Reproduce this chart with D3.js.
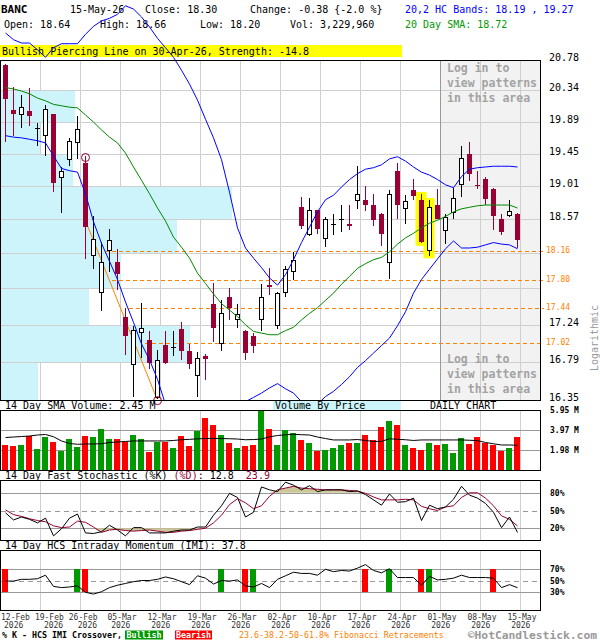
<!DOCTYPE html>
<html>
<head>
<meta charset="utf-8">
<title>BANC daily chart</title>
<script src="https://cdn.jsdelivr.net/npm/d3@7/dist/d3.min.js"></script>
<style>
html,body{margin:0;padding:0;background:#fff;}
svg{display:block;}
text{white-space:pre;}
</style>
</head>
<body>
<svg id="chart" width="600" height="640"></svg>
<script>
// ---------------- DATA ----------------
const dates = ["2026-02-12","2026-02-13","2026-02-17","2026-02-18","2026-02-19","2026-02-20","2026-02-23","2026-02-24","2026-02-25","2026-02-26","2026-02-27",
"2026-03-02","2026-03-03","2026-03-04","2026-03-05","2026-03-06","2026-03-09","2026-03-10","2026-03-11","2026-03-12","2026-03-13","2026-03-16","2026-03-17","2026-03-18","2026-03-19","2026-03-20","2026-03-23","2026-03-24","2026-03-25","2026-03-26","2026-03-27","2026-03-30","2026-03-31",
"2026-04-01","2026-04-02","2026-04-06","2026-04-07","2026-04-08","2026-04-09","2026-04-10","2026-04-13","2026-04-14","2026-04-15","2026-04-16","2026-04-17","2026-04-20","2026-04-21","2026-04-22","2026-04-23","2026-04-24","2026-04-27","2026-04-28","2026-04-29","2026-04-30",
"2026-05-01","2026-05-04","2026-05-05","2026-05-06","2026-05-07","2026-05-08","2026-05-11","2026-05-12","2026-05-13","2026-05-14","2026-05-15"];

const open  = [20.70,20.06,20.00,20.05,19.81,19.70,20.00,19.13,19.37,19.61, 19.33,18.11,17.64,18.17,18.02,17.34,16.76,17.15,17.06,16.38,
               17.00,16.97,17.19,16.92,16.63,16.87,17.50,17.01,17.58,17.30, 17.17,17.10,17.30,17.73,17.23,17.64,17.90,18.73,18.38,18.69,
               18.32,18.51,18.57,18.51,18.82,18.82,18.76,18.64,18.01,19.21, 18.71,18.96,18.82,18.17,18.76,18.43,18.66,19.04,19.45,19.03,
               19.11,18.97,18.58,18.62,18.64];
const high  = [20.72,20.39,20.27,20.38,19.88,20.13,20.01,19.27,19.67,19.97, 19.42,18.61,18.28,18.44,18.19,17.45,17.22,17.51,17.16,16.94,
               17.16,17.16,17.27,17.01,16.91,16.89,17.75,17.55,17.69,17.49, 17.18,17.14,17.74,17.94,17.64,17.97,18.15,18.86,18.85,18.70,
               18.60,18.64,18.76,18.76,19.29,19.01,18.90,18.66,18.96,19.32, 18.89,19.11,18.90,18.82,18.97,18.64,18.98,19.56,19.61,19.22,
               19.13,18.98,18.64,18.82,18.66];
const low   = [19.61,19.70,19.81,19.83,19.56,19.42,18.93,18.65,19.28,19.38, 18.06,17.93,17.41,17.90,17.67,16.88,16.38,16.84,16.71,16.36,
               16.77,16.86,16.82,16.71,16.39,16.58,17.03,16.92,17.30,17.20, 16.82,16.90,17.17,17.61,17.19,17.58,17.79,18.45,18.35,18.38,
               18.21,18.37,18.40,18.43,18.71,18.68,18.48,18.23,17.81,18.58, 18.51,18.82,18.26,18.10,18.57,18.25,18.57,18.86,19.08,18.97,
               18.76,18.43,18.37,18.60,18.20];
const close = [20.21,20.00,20.10,19.98,19.81,20.07,19.06,19.21,19.62,19.79, 18.47,18.31,18.02,18.29,17.87,17.11,17.17,17.19,16.78,16.81,
               16.78,16.97,16.93,16.77,16.84,16.83,17.20,17.38,17.45,17.36, 16.90,16.98,17.58,17.71,17.63,17.93,18.04,18.49,18.69,18.44,
               18.57,18.51,18.57,18.48,18.90,18.76,18.56,18.38,18.90,18.76, 18.80,18.88,18.28,18.73,18.57,18.60,18.84,19.39,19.18,19.01,
               18.84,18.62,18.41,18.68,18.30];

const bandUpper = [21.18,21.08,21.03,21.03,20.93,20.82,20.96,21.02,21.02,21.02, 21.16,21.28,21.36,21.40,21.46,21.59,21.54,21.42,21.27,21.10,
                   20.96,20.82,20.63,20.43,20.20,19.93,19.67,19.37,18.93,18.46, 18.20,18.07,17.95,17.82,17.73,17.86,18.05,18.27,18.47,18.67,
                   18.83,18.89,19.00,19.10,19.18,19.24,19.26,19.30,19.38,19.41, 19.35,19.27,19.20,19.16,19.10,19.03,18.99,19.14,19.24,19.26,
                   19.27,19.28,19.28,19.28,19.27];
const bandLower = [19.70,19.68,19.67,19.65,19.63,19.60,19.42,19.25,19.22,19.20, 18.91,18.54,18.26,18.03,17.80,17.52,17.27,17.01,16.82,16.59,
                   16.30,16.18,16.07,15.99,15.94,15.93,15.96,16.03,16.12,16.24, 16.33,16.38,16.43,16.49,16.54,16.48,16.43,16.33,16.26,16.30,
                   16.39,16.45,16.53,16.62,16.73,16.81,16.90,16.99,17.08,17.23, 17.40,17.63,17.80,17.93,18.06,18.19,18.29,18.20,18.20,18.21,
                   18.24,18.27,18.25,18.24,18.19];
const sma20 = [20.38,20.36,20.33,20.29,20.23,20.19,20.14,20.12,20.10,20.09, 19.99,19.89,19.78,19.68,19.60,19.46,19.27,19.09,18.91,18.72,
               18.55,18.34,18.21,18.07,17.88,17.75,17.62,17.50,17.42,17.34, 17.24,17.16,17.14,17.12,17.12,17.17,17.21,17.30,17.38,17.45,
               17.54,17.63,17.74,17.84,17.94,18.00,18.05,18.08,18.15,18.25, 18.33,18.39,18.46,18.52,18.56,18.61,18.67,18.71,18.73,18.75,
               18.76,18.76,18.76,18.76,18.72];

const volume = [2.48,2.38,2.48,3.40,2.08,3.27,2.78,1.92,3.07,2.28, 3.37,3.27,4.07,3.07,3.07,2.81,3.47,3.07,1.79,2.81,
                2.81,2.18,3.37,2.38,3.87,5.16,4.46,3.47,2.68,2.18, 2.38,2.48,5.88,4.07,2.48,3.97,3.67,2.98,2.68,1.88,
                1.98,2.18,2.48,2.68,2.68,3.47,2.98,4.26,4.86,4.46, 2.48,2.18,1.98,2.68,2.48,2.58,1.69,3.17,2.58,3.27,
                2.68,2.48,1.88,2.18,3.23];
const volSma = [3.22,3.27,3.32,3.37,3.47,3.52,3.30,2.88,2.63,2.55, 2.58,2.58,2.61,2.73,2.78,2.83,2.88,2.88,2.88,2.88,
                2.88,2.93,3.00,3.04,3.09,3.12,3.14,3.12,3.10,3.07, 3.00,3.02,3.07,3.29,3.42,3.49,3.54,3.50,3.47,3.27,
                3.12,2.98,2.98,2.98,3.02,2.93,2.83,2.84,3.10,3.04, 3.00,2.93,2.98,2.98,2.98,2.98,2.98,2.98,2.95,2.91,
                2.73,2.60,2.48,2.48,2.45];

const stochK = [46,34,39,35,29,37,7,19,37,44, 12,11,14,25,17,7,21,21,12,12, 12,15,17,17,22,22,42,58,79,72,
                39,47,90,85,82,98,93,85,92,82, 85,85,85,82,83,77,68,59,78,64, 65,71,33,59,53,56,69,91,76,71,
                62,47,21,39,12.8];
const stochD = [51,43,40,36,33,31,24,21,22,32, 30,22,13,17,18,16,15,16,17,15, 13,13,15,16,18,20,29,42,60,70,
                63,53,58,74,85,88,91,88,87,86, 85,85,85,84,83,79,73,68,68,68, 69,68,57,53,50,56,58,72,80,80,
                71,58,41,35,23.9];
const imi = [49,49,52,52,53,59,40,38,39,41, 30,27,31,38,42,45,48,50,50,52, 56,53,48,43,58,54,44,50,49,51,
             41,39,45,38,52,58,64,62,62,59, 69,65,67,66,71,77,67,63,70,55, 55,55,42,57,51,52,54,59,55,55,
             55,54,38,43,37.8];
const bullishIdx = [9,27,31,48,53];
const bearishIdx = [0,10,30,45,52,61];

const priceGrid   = [20.78,20.34,19.89,19.45,19.01,18.57,18.13,17.69,17.24,16.79,16.35];
const priceLabels = ["20.78","20.34","19.89","19.45","19.01","18.57","17.24","16.79","16.35"];
const vbpVolume   = [0,3.2,1.7,3.1,10.0,7.6,5.2,3.8,8.2,1.6];   // volume-by-price, one per price row (top→bottom)

const fibLevels = [18.16,17.80,17.44,17.02];
const fibLabels = ["18.16","17.80","17.44","17.02"];
const fibStart  = [12.5,13.4,15.5,17.5];
const fibTrendIdx   = [10,19];
const fibTrendPrice = [18.57,16.36];

const highlightIdx = [52,53];
const markerIdx  = [10,19];
const markerSide = ["high","low"];

const xTickDates  = ["2026-02-12","2026-02-19","2026-02-26","2026-03-05","2026-03-12","2026-03-19","2026-03-26","2026-04-02","2026-04-10","2026-04-17","2026-04-24","2026-05-01","2026-05-08","2026-05-15"];
const xTickLabels = ["12-Feb","19-Feb","26-Feb","05-Mar","12-Mar","19-Mar","26-Mar","02-Apr","10-Apr","17-Apr","24-Apr","01-May","08-May","15-May"];
const xTickYears  = ["2026","2026","2026","2026","2026","2026","2026","2026","2026","2026","2026","2026","2026","2026"];

const volTicks  = [5.95,3.97,1.98];
const volLabels = ["5.95 M","3.97 M","1.98 M"];
const stochTicks = [80,50,20];
const imiTicks   = [70,50,30];
const loginLines = ["Log in to","view patterns","in this area"];

// ---------------- SETUP ----------------
const svg = d3.select("#chart");
const MONO = '"DejaVu Sans Mono","Liberation Mono",monospace';
const CRED = "#990033", VG = "#009900", VR = "#ff0000", ORANGE = "#ff8000",
      BLUE = "#0000ff", SMAG = "#008800", GRID = "#cfcfcf", GRID2 = "#999";

const N = dates.length;
const x  = d3.scaleLinear().domain([0, N - 1]).range([5, 517]);
const y  = d3.scaleLog().domain([16.35, 20.78]).range([400, 60]);
const yV = d3.scaleLinear().domain([0, 5.95]).range([470, 410]);
const yS = d3.scaleLinear().domain([0, 100]).range([540, 481]);
const yI = d3.scaleLinear().domain([0, 100]).range([610, 551]);
const vbpW = d3.scaleLinear().domain([0, 10]).range([0, 231]);
const idx = d3.range(N);
const gridIdx = xTickDates.slice(1).map(d => dates.indexOf(d));

function T(g, px, py, s, o = {}) {
  const t = g.append("text").attr("x", px).attr("y", py).text(s)
    .attr("font-family", MONO).attr("font-size", o.size || 10).attr("fill", o.fill || "#000");
  if (o.bold) t.attr("font-weight", "bold");
  if (o.anchor) t.attr("text-anchor", o.anchor);
  return t;
}
const r5 = v => Math.round(v) + 0.5;

svg.append("rect").attr("width", 600).attr("height", 640).attr("fill", "#fff");

// ---------------- HEADER ----------------
const hd = svg.append("g");
T(hd, 1, 13, "BANC", {bold: true, size: 11});
T(hd, 70, 13, "15-May-26");
T(hd, 145, 13, "Close: 18.30");
T(hd, 250, 13, "Change: -0.38 {-2.0 %}");
T(hd, 405, 13, "20,2 HC Bands: 18.19 , 19.27", {fill: BLUE});
T(hd, 4, 28, "Open: 18.64");
T(hd, 100, 28, "High: 18.66");
T(hd, 200, 28, "Low: 18.20");
T(hd, 290, 28, "Vol: 3,229,960");
T(hd, 405, 28, "20 Day SMA: 18.72", {fill: "#009900"});
hd.append("rect").attr("x", 0).attr("y", 45).attr("width", 402).attr("height", 12).attr("fill", "#ffff00");
T(hd, 2, 55, "Bullish Piercing Line on 30-Apr-26, Strength: -14.8");

// ---------------- MAIN PANEL ----------------
const gm = svg.append("g");
gm.append("rect").attr("x", 440).attr("y", 60).attr("width", 100).attr("height", 340).attr("fill", "#f2f2f2");
const gGrid = gm.append("g").attr("shape-rendering", "crispEdges");
gridIdx.forEach(i => gGrid.append("line").attr("x1", x(i) + 3.5).attr("x2", x(i) + 3.5)
  .attr("y1", 60).attr("y2", 400).attr("stroke", GRID));
// volume by price
const gVbp = gm.append("g").attr("shape-rendering", "crispEdges");
vbpVolume.forEach((v, k) => {
  if (v <= 0) return;
  const t = y(priceGrid[k]), b = y(priceGrid[k + 1]);
  gVbp.append("rect").attr("x", 1).attr("y", Math.round(t) + 1).attr("width", vbpW(v))
    .attr("height", Math.round(b) - Math.round(t) - 1).attr("fill", "#ccf4fa");
});
priceGrid.slice(1, -1).forEach(p => gm.append("line").attr("shape-rendering", "crispEdges")
  .attr("x1", 1).attr("x2", 540).attr("y1", r5(y(p))).attr("y2", r5(y(p))).attr("stroke", GRID));
gm.append("line").attr("shape-rendering", "crispEdges").attr("x1", 440.5).attr("x2", 440.5)
  .attr("y1", 60).attr("y2", 400).attr("stroke", GRID2);
// login text
loginLines.forEach((s, k) => {
  T(gm, 447, 71.5 + k * 15, s, {size: 11.5, bold: true, fill: "#a3a3a3"});
  T(gm, 447, 363 + k * 15, s, {size: 11.5, bold: true, fill: "#a3a3a3"});
});
// fibonacci
fibLevels.forEach((p, k) => {
  gm.append("line").attr("x1", x(fibStart[k])).attr("x2", 544).attr("y1", r5(y(p))).attr("y2", r5(y(p)))
    .attr("stroke", ORANGE).attr("stroke-dasharray", "4,3").attr("shape-rendering", "crispEdges");
  T(gm, 546, Math.round(y(p)) + 1.5, fibLabels[k], {size: 8, fill: ORANGE});
});
gm.append("line").attr("x1", x(fibTrendIdx[0])).attr("y1", y(fibTrendPrice[0]))
  .attr("x2", x(fibTrendIdx[1])).attr("y2", y(fibTrendPrice[1])).attr("stroke", ORANGE).attr("stroke-width", 1);
// highlight boxes
highlightIdx.forEach(i => gm.append("rect").attr("x", x(i) - 5.5).attr("width", 11)
  .attr("y", y(high[i]) - 2.5).attr("height", y(low[i]) - y(high[i]) + 5).attr("fill", "#ffff00"));
// candles
const gC = gm.append("g").attr("shape-rendering", "crispEdges");
idx.forEach(i => {
  const cx = x(i), o = open[i], c = close[i];
  const down = c < o, doji = Math.abs(c - o) < 0.005;
  const col = down ? CRED : "#000";
  gC.append("line").attr("x1", cx + 0.5).attr("x2", cx + 0.5)
    .attr("y1", y(high[i])).attr("y2", y(low[i])).attr("stroke", col);
  if (doji) {
    gC.append("line").attr("x1", cx - 2).attr("x2", cx + 3).attr("y1", r5(y(c))).attr("y2", r5(y(c))).attr("stroke", "#000");
  } else if (down) {
    gC.append("rect").attr("x", cx - 2).attr("width", 5).attr("y", y(o))
      .attr("height", Math.max(1.5, y(c) - y(o))).attr("fill", CRED);
  } else {
    gC.append("rect").attr("x", cx - 1.5).attr("width", 4).attr("y", y(c))
      .attr("height", Math.max(1, y(o) - y(c))).attr("fill", "#fff").attr("stroke", "#000");
  }
});
// circle markers
markerIdx.forEach((i, k) => {
  const p = markerSide[k] === "high" ? high[i] : low[i];
  gm.append("circle").attr("cx", x(i) + 0.5).attr("cy", y(p) + 1.5).attr("r", 4)
    .attr("fill", "none").attr("stroke", CRED).attr("stroke-width", 1);
});
// bands & sma (clipped at bottom of price panel)
svg.append("clipPath").attr("id", "clipMain").append("rect").attr("x", 0).attr("y", 0).attr("width", 541).attr("height", 400);
const gL = gm.append("g").attr("clip-path", "url(#clipMain)");
const pl = d3.line().x((d, i) => x(i) + 0.5).y(d => y(d));
gL.append("path").attr("d", pl(bandUpper)).attr("fill", "none").attr("stroke", BLUE);
gL.append("path").attr("d", pl(bandLower)).attr("fill", "none").attr("stroke", BLUE);
gL.append("path").attr("d", pl(sma20)).attr("fill", "none").attr("stroke", SMAG);
gm.append("rect").attr("x", 0.5).attr("y", 60.5).attr("width", 540).attr("height", 340)
  .attr("fill", "none").attr("stroke", "#000").attr("shape-rendering", "crispEdges");
// price axis labels
priceLabels.forEach(s => T(gm, 549, Math.round(y(+s)) + 0.5, s));
T(gm, 0, 0, "Logarithmic", {fill: "#999", anchor: "middle"}).attr("transform", "translate(598,338) rotate(-90)")
  .attr("x", 0).attr("y", 0);

// ---------------- VOLUME PANEL ----------------
const gv = svg.append("g");
T(gv, 5, 409, "14 Day SMA Volume: 2.45 M");
gv.append("rect").attr("x", 273).attr("y", 401).attr("width", 128).attr("height", 9).attr("fill", "#ccf4fa");
T(gv, 275, 409, "Volume By Price");
T(gv, 430, 409, "DAILY CHART");
const gvg = gv.append("g").attr("shape-rendering", "crispEdges");
gridIdx.forEach(i => gvg.append("line").attr("x1", x(i) + 3.5).attr("x2", x(i) + 3.5).attr("y1", 410).attr("y2", 470).attr("stroke", GRID));
volTicks.slice(1).forEach(v => gvg.append("line").attr("x1", 1).attr("x2", 540).attr("y1", r5(yV(v))).attr("y2", r5(yV(v))).attr("stroke", GRID2));
idx.forEach(i => gvg.append("rect").attr("x", x(i) - 3).attr("width", 6).attr("y", yV(volume[i]))
  .attr("height", 470 - yV(volume[i])).attr("fill", close[i] >= open[i] ? VG : VR));
gv.append("path").attr("d", d3.line().x((d, i) => x(i) + 0.5).y(d => yV(d))(volSma)).attr("fill", "none").attr("stroke", "#000");
gv.append("rect").attr("x", 0.5).attr("y", 410.5).attr("width", 540).attr("height", 60)
  .attr("fill", "none").attr("stroke", "#000").attr("shape-rendering", "crispEdges");
volTicks.forEach((v, k) => T(gv, 550, Math.round(yV(v)) + 3, volLabels[k], {size: 8, bold: true}));

// ---------------- STOCHASTIC PANEL ----------------
const gs = svg.append("g");
const st = T(gs, 5, 479, "14 Day Fast Stochastic (%K) ");
st.append("tspan").attr("fill", CRED).text("(%D)");
st.append("tspan").text(": 12.8  ");
st.append("tspan").attr("fill", CRED).text("23.9");
const gsg = gs.append("g").attr("shape-rendering", "crispEdges");
gridIdx.forEach(i => gsg.append("line").attr("x1", x(i) + 3.5).attr("x2", x(i) + 3.5).attr("y1", 481).attr("y2", 540).attr("stroke", GRID));
const sx = (d, i) => x(i) + 0.5;
gs.append("path").attr("d", d3.area().x(sx).y0(yS(80)).y1(d => yS(Math.max(d, 80)))(stochD)).attr("fill", "#ccc699");
gs.append("path").attr("d", d3.area().x(sx).y0(yS(20)).y1(d => yS(Math.min(d, 20)))(stochD)).attr("fill", "#ccc699");
stochTicks.forEach(v => gsg.append("line").attr("x1", 1).attr("x2", 540).attr("y1", r5(yS(v))).attr("y2", r5(yS(v)))
  .attr("stroke", GRID2).attr("stroke-dasharray", v === 50 ? "5,4" : null));
gs.append("path").attr("d", d3.line().x(sx).y(d => yS(d))(stochD)).attr("fill", "none").attr("stroke", CRED);
gs.append("path").attr("d", d3.line().x(sx).y(d => yS(d))(stochK)).attr("fill", "none").attr("stroke", "#000");
gs.append("rect").attr("x", 0.5).attr("y", 480.5).attr("width", 540).attr("height", 60)
  .attr("fill", "none").attr("stroke", "#000").attr("shape-rendering", "crispEdges");
stochTicks.forEach(v => T(gs, 550, Math.round(yS(v)) + 3, v + "%", {size: 8, bold: true}));

// ---------------- IMI PANEL ----------------
const gi = svg.append("g");
T(gi, 5, 549, "14 Day HCS Intraday Momentum (IMI): 37.8");
const gig = gi.append("g").attr("shape-rendering", "crispEdges");
gridIdx.forEach(i => gig.append("line").attr("x1", x(i) + 3.5).attr("x2", x(i) + 3.5).attr("y1", 551).attr("y2", 610).attr("stroke", GRID));
imiTicks.forEach(v => gig.append("line").attr("x1", 1).attr("x2", 540).attr("y1", r5(yI(v))).attr("y2", r5(yI(v)))
  .attr("stroke", GRID2).attr("stroke-dasharray", v === 50 ? "5,4" : null));
bullishIdx.forEach(i => gig.append("rect").attr("x", x(i) - 3).attr("width", 6).attr("y", yI(70)).attr("height", yI(30) - yI(70)).attr("fill", VG));
bearishIdx.forEach(i => gig.append("rect").attr("x", x(i) - 3).attr("width", 6).attr("y", yI(70)).attr("height", yI(30) - yI(70)).attr("fill", VR));
gi.append("path").attr("d", d3.line().x(sx).y(d => yI(d))(imi)).attr("fill", "none").attr("stroke", "#000");
gi.append("rect").attr("x", 0.5).attr("y", 550.5).attr("width", 540).attr("height", 60)
  .attr("fill", "none").attr("stroke", "#000").attr("shape-rendering", "crispEdges");
imiTicks.forEach(v => T(gi, 550, Math.round(yI(v)) + 3, v + "%", {size: 8, bold: true}));

// ---------------- X AXIS LABELS ----------------
const CW = 8 * 0.602;
let prevRight = -Infinity;
xTickDates.forEach((d, k) => {
  const i = dates.indexOf(d);
  const w = xTickLabels[k].length * CW;
  let left = x(i) + 5 - w / 2, shifted = false;
  if (left < 1) left = 1;
  else if (left < prevRight + 5) { left = prevRight + 5; shifted = true; }
  prevRight = left + w;
  T(svg, left, 619.5, xTickLabels[k], {size: 8, fill: "#333"});
  const yl = k === 0 ? left + 3 : (shifted ? left + 9 : left + 3.6);
  T(svg, yl, 627.5, xTickYears[k], {size: 8, fill: "#333"});
});

// ---------------- FOOTER ----------------
T(svg, 2, 638, "% K - HCS IMI Crossover,", {size: 8.3, bold: true});
svg.append("rect").attr("x", 125).attr("y", 630.5).attr("width", 38).attr("height", 9).attr("fill", VG);
T(svg, 144, 638, "Bullish", {size: 8.3, bold: true, fill: "#fff", anchor: "middle"});
svg.append("rect").attr("x", 175).attr("y", 630.5).attr("width", 37).attr("height", 9).attr("fill", VR);
T(svg, 193.5, 638, "Bearish", {size: 8.3, bold: true, fill: "#fff", anchor: "middle"});
T(svg, 239, 638, "23.6-38.2-50-61.8% Fibonacci Retracements", {size: 8.3, fill: ORANGE});
T(svg, 597, 638.5, "\u00A9HotCandlestick.com", {size: 11.3, bold: true, fill: "#999", anchor: "end"});
</script>
</body>
</html>
